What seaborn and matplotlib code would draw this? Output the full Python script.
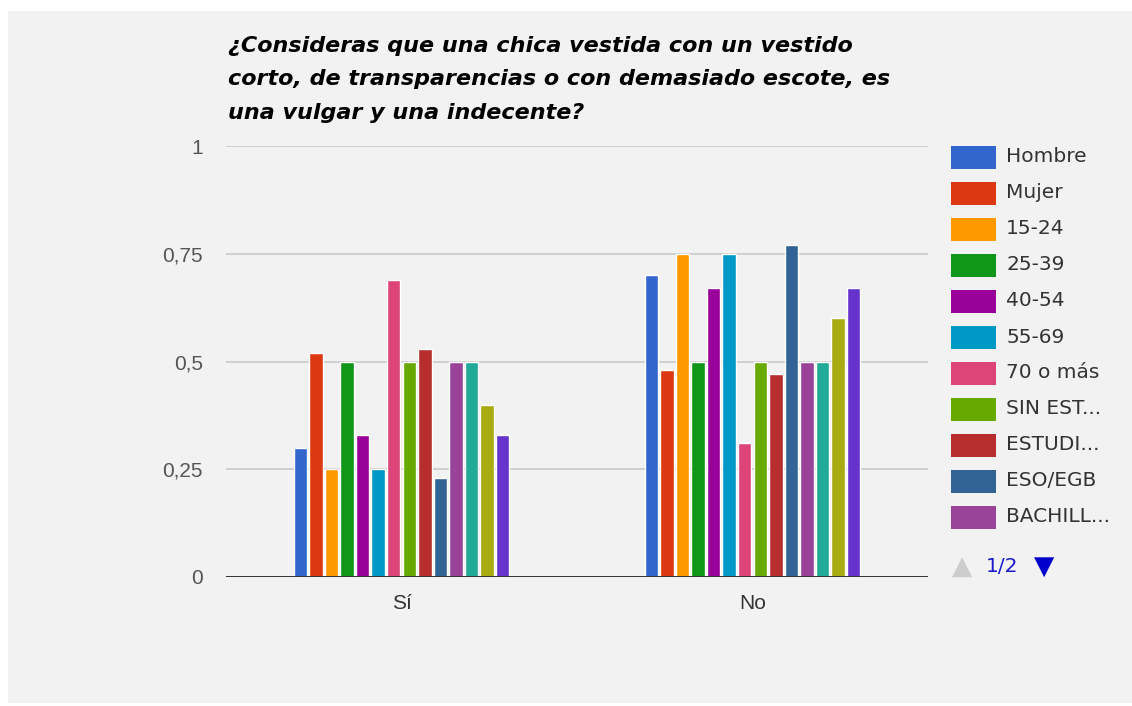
import numpy as np
import pandas as pd
import matplotlib
matplotlib.use("Agg")
import matplotlib.pyplot as plt
import seaborn as sns
from matplotlib.patches import Rectangle

# ---------------- data ----------------
categories = ["Sí", "No"]
groups = ["Hombre", "Mujer", "15-24", "25-39", "40-54", "55-69", "70 o más",
          "SIN ESTUDIOS", "ESTUDIOS PRIMARIOS", "ESO/EGB", "BACHILLERATO",
          "FP", "UNIVERSITARIOS", "POSGRADO"]
legend_labels = ["Hombre", "Mujer", "15-24", "25-39", "40-54", "55-69",
                 "70 o más", "SIN EST...", "ESTUDI...", "ESO/EGB", "BACHILL..."]
si_values = [0.30, 0.52, 0.25, 0.50, 0.33, 0.25, 0.69, 0.50, 0.53, 0.23, 0.50, 0.50, 0.40, 0.33]
no_values = [0.70, 0.48, 0.75, 0.50, 0.67, 0.75, 0.31, 0.50, 0.47, 0.77, 0.50, 0.50, 0.60, 0.67]
yticks = [0, 0.25, 0.5, 0.75, 1]
ytick_labels = ["0", "0,25", "0,5", "0,75", "1"]
title = ("¿Consideras que una chica vestida con un vestido\n"
         "corto, de transparencias o con demasiado escote, es\n"
         "una vulgar y una indecente?")

palette = ["#3366cc", "#dc3912", "#ff9900", "#109618", "#990099", "#0099c6",
           "#dd4477", "#66aa00", "#b82e2e", "#316395", "#994499", "#22aa99",
           "#aaaa11", "#6633cc"]

df = pd.DataFrame({
    "respuesta": [categories[0]] * len(groups) + [categories[1]] * len(groups),
    "grupo": groups + groups,
    "valor": si_values + no_values,
})

# ---------------- figure ----------------
sns.set_theme(style="white")
plt.rcParams["font.family"] = ["DejaVu Sans"]

W, H = 1132, 706
fig = plt.figure(figsize=(W / 100, H / 100), dpi=100, facecolor="white")
bg = "#f2f2f2"
fig.patches.append(Rectangle((8 / W, 3 / H), 1 - 8 / W, 1 - 14 / H,
                             transform=fig.transFigure, facecolor=bg,
                             edgecolor="none", zorder=-10))

ax = fig.add_axes([226 / W, 1 - 577 / H, (928 - 226) / W, (577 - 146) / H])
ax.set_facecolor(bg)

sns.barplot(data=df, x="respuesta", y="valor", hue="grupo", order=categories,
            hue_order=groups, palette=palette, saturation=1, width=0.62,
            gap=0.13, legend=False, ax=ax)

ax.set_xlim(-0.5, 1.5)
ax.set_ylim(0, 1)
ax.set_yticks(yticks)
ax.set_yticklabels(ytick_labels, fontfamily="Liberation Sans", fontsize=15, color="#555555")
ax.set_xticks(range(len(categories)))
ax.set_xticklabels(categories, fontfamily="Liberation Sans", fontsize=15, color="#333333")
ax.tick_params(axis="y", length=0, pad=16.5)
ax.tick_params(axis="x", length=0, pad=12)
ax.set_xlabel("")
ax.set_ylabel("")
for s in ax.spines.values():
    s.set_visible(False)
ax.yaxis.grid(True, color="#cccccc", linewidth=1.3)
ax.set_axisbelow(True)
ax.axhline(0, color="#333333", linewidth=1.4, zorder=5)

# title
fig.text(228 / W, 1 - 36 / H, title, ha="left", va="top", fontsize=16,
         fontweight="bold", fontstyle="italic", color="#000000", linespacing=1.84)

# legend (page 1 of 2)
x0, sw, sh = 951, 45, 23
y_first = 157
pitch = 36
for i, lab in enumerate(legend_labels):
    yc = y_first + i * pitch
    fig.patches.append(Rectangle((x0 / W, 1 - (yc + sh / 2) / H), sw / W, sh / H,
                                 transform=fig.transFigure, facecolor=palette[i],
                                 edgecolor="none"))
    fig.text(1006 / W, 1 - yc / H, lab, ha="left", va="center", fontsize=14.5,
             color="#333333")

fig.text(962 / W, 1 - 567 / H, "▲", ha="center", va="center", fontsize=19, color="#cccccc")
fig.text(1002 / W, 1 - 567 / H, "1/2", ha="center", va="center", fontsize=14.5, color="#1a1acc")
fig.text(1044 / W, 1 - 567 / H, "▼", ha="center", va="center", fontsize=19, color="#0000cc")

fig.savefig("out.png", dpi=100, facecolor="white")
